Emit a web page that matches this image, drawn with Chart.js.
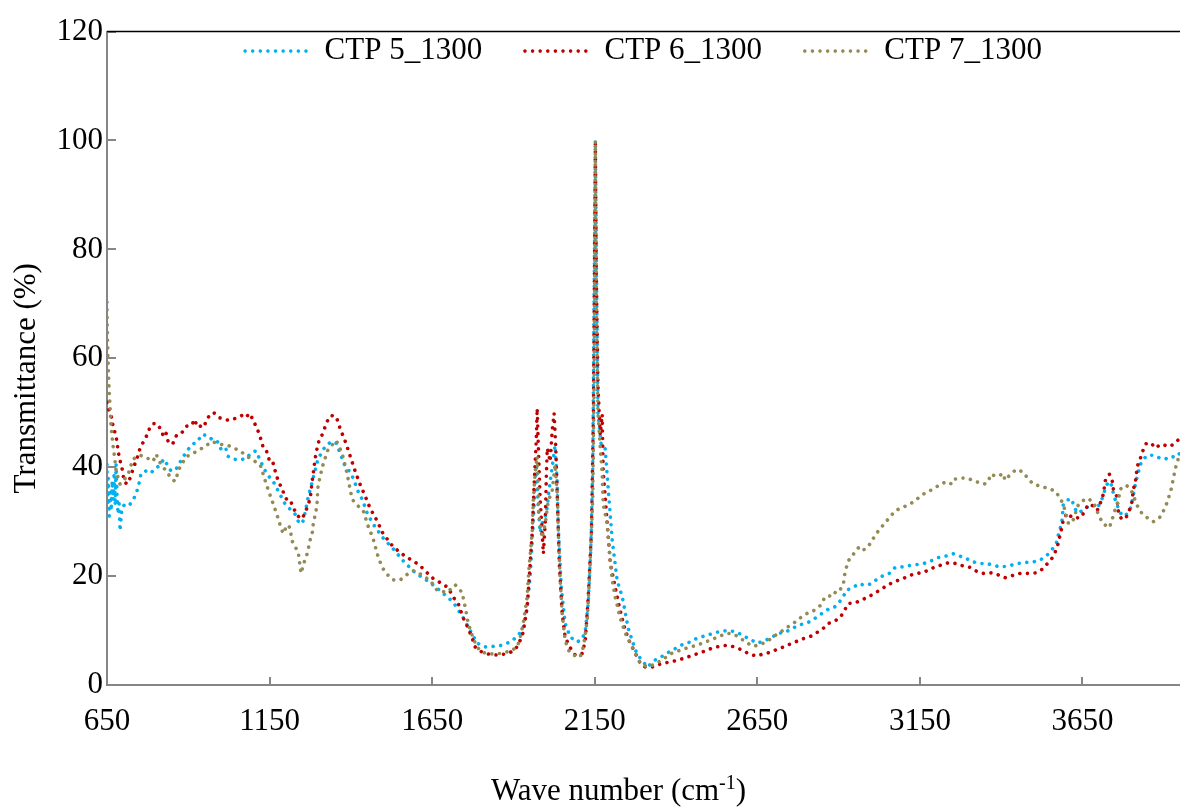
<!DOCTYPE html>
<html>
<head>
<meta charset="utf-8">
<script src="https://cdn.jsdelivr.net/npm/chart.js@4.4.0/dist/chart.umd.min.js"></script>
<style>
  html, body { margin: 0; padding: 0; background: #ffffff; }
  canvas { display: block; }
</style>
</head>
<body>
<canvas id="ftirChart" width="1180" height="807"></canvas>
<script>
const seriesNames = ["CTP 5_1300", "CTP 6_1300", "CTP 7_1300"];
const seriesColors = ["#00B0F0", "#C00000", "#948A54"];
const xTicks = [650, 1150, 1650, 2150, 2650, 3150, 3650];
const yTicks = [0, 20, 40, 60, 80, 100, 120];

// [wave number, transmittance %]
const ctp5 = [[650,40.5],[652,33],[654,38],[657,31],[660,36],[663,32],[666,37.5],[669,34],[672,39],[675,33],[678,40.5],[681,35],[684,31.4],[687,34],[690,28.3],[696,32.5],[708,33.4],[721,33.2],[733,34.3],[742,35.6],[748,36.9],[755,38.9],[770,39.3],[785,38.9],[798,39.8],[810,40.2],[825,41.5],[847,39.3],[862,39.6],[881,41.6],[896,43],[912,44.2],[927,44.6],[942,46],[958,45.8],[973,45.1],[988,44.9],[1004,42.9],[1016,43.3],[1022,42],[1038,41.5],[1056,41.3],[1078,41.6],[1093,42.6],[1108,43],[1127,40.5],[1142,38.7],[1161,37.4],[1182,35],[1198,33.2],[1213,32.3],[1228,31.4],[1238,30.1],[1250,29.6],[1256,30.7],[1268,34.3],[1284,38],[1299,41.5],[1321,43.8],[1339,44.7],[1355,44.4],[1367,42.6],[1382,40.2],[1395,39.3],[1407,38],[1422,35.6],[1435,34.1],[1450,31.6],[1468,29.6],[1499,27],[1530,25],[1561,22.8],[1598,20.6],[1644,18.8],[1681,17],[1715,15.2],[1745,12.4],[1767,10],[1788,7.7],[1813,7],[1838,7.1],[1865,7.3],[1890,7.9],[1915,9.1],[1930,10.6],[1942,14.2],[1952,20.4],[1961,30.1],[1967,37.4],[1971,40],[1976,33],[1982,28],[1990,30],[2001,31.4],[2010,36],[2019,40],[2028,44],[2034,38],[2038,29],[2047,18],[2059,11.3],[2075,8.8],[2096,7.9],[2112,8.5],[2121,10],[2130,15],[2138,25],[2144,40],[2148,70],[2152,100],[2156,72],[2160,50],[2170,44],[2182,43.5],[2192,35.6],[2204,26.5],[2219,19.2],[2235,16.1],[2253,10.4],[2275,6.4],[2290,4.9],[2312,3.3],[2336,4.6],[2358,5.3],[2382,6.2],[2407,7],[2422,7.5],[2444,7.9],[2465,8.6],[2493,9.1],[2515,9.5],[2539,9.9],[2564,10],[2588,9.7],[2607,9],[2628,8.4],[2650,7.7],[2668,8],[2690,8.6],[2715,9.5],[2736,9.7],[2758,10.4],[2779,11],[2795,11.3],[2816,11.7],[2835,12.6],[2853,13.3],[2868,13.9],[2890,14.4],[2902,15.2],[2915,16.3],[2924,17.4],[2945,17.9],[2961,18.6],[2982,18.3],[3001,18.6],[3019,19.5],[3037,20.1],[3056,20.5],[3074,21.6],[3096,21.7],[3114,21.9],[3139,22.1],[3161,22.3],[3185,22.8],[3207,23.4],[3232,23.7],[3253,24.1],[3272,23.7],[3293,23.2],[3315,22.6],[3336,22.3],[3358,22.3],[3379,21.9],[3401,21.7],[3425,21.9],[3450,22.3],[3475,22.5],[3499,22.6],[3521,23],[3542,23.9],[3558,25],[3570,26.1],[3576,27.6],[3582,28.9],[3588,30.5],[3591,33.2],[3604,34],[3619,34.1],[3622,32.9],[3635,31.6],[3653,32.1],[3675,33.2],[3696,32.5],[3711,34.3],[3721,36.2],[3730,37.4],[3742,36.5],[3745,35],[3755,33.4],[3761,32.3],[3773,31],[3788,31.4],[3798,32.5],[3804,34.1],[3813,36.9],[3819,38.4],[3828,40.5],[3838,41.5],[3850,42.2],[3868,42.2],[3890,41.6],[3905,41.5],[3921,42],[3936,41.8],[3950,42.6]];

const ctp6 = [[650,51.9],[656,50.4],[665,49],[668,47.8],[675,46.2],[681,44.7],[684,42.9],[693,40.5],[699,39.1],[702,37.4],[712,36.9],[721,38],[727,39.1],[733,40.2],[742,41.5],[748,42.9],[758,44.2],[770,45.5],[779,46.9],[792,48],[804,48],[816,46.9],[825,45.5],[832,46.2],[838,44.7],[847,44.9],[853,44.4],[865,46],[881,46.4],[893,47.5],[912,47.8],[918,48.8],[927,47.7],[933,47.3],[942,47.8],[948,47.5],[958,48.8],[967,49.7],[979,50],[995,49.1],[1010,48.8],[1025,48.6],[1047,49],[1065,49.5],[1078,49.1],[1087,49.9],[1099,48.8],[1108,47.5],[1118,46.2],[1130,43.7],[1139,43.3],[1152,40.7],[1161,40.7],[1170,38.7],[1179,37.1],[1188,36.2],[1195,34.9],[1207,33.6],[1216,33.6],[1225,32.3],[1238,31],[1250,30.5],[1259,31.6],[1268,33],[1275,34.3],[1281,37.4],[1290,41.5],[1299,44.4],[1312,46],[1327,48.4],[1339,49.5],[1355,49.3],[1367,47.1],[1385,44.4],[1398,42],[1413,39.3],[1428,36.9],[1444,34.7],[1459,32.5],[1481,30.1],[1499,27.8],[1527,25.6],[1552,24.3],[1573,23.4],[1592,22.8],[1613,21.9],[1628,21],[1650,19.7],[1675,18.8],[1699,17.9],[1715,16.1],[1730,15],[1745,12.4],[1761,10.4],[1773,8.6],[1782,7],[1804,6],[1822,5.7],[1850,5.5],[1875,5.7],[1899,6.2],[1915,7.3],[1930,9.7],[1942,14.2],[1948,19.2],[1958,28.3],[1964,37.4],[1970,44.7],[1973,50.8],[1976,45],[1982,34.3],[1988,28.3],[1992,24.1],[1998,30],[2001,38],[2004,43.5],[2013,41],[2019,46.6],[2025,49.9],[2030,44],[2035,34.3],[2041,22.3],[2050,13.1],[2059,8.8],[2075,6.8],[2090,5.5],[2112,5.8],[2121,8.2],[2130,16.1],[2140,28.3],[2146,50],[2149,75],[2152,100],[2155,75],[2160,55],[2167,46],[2173,49.7],[2176,39.3],[2188,30.1],[2198,22.3],[2213,17.9],[2228,13.7],[2244,10],[2259,7.7],[2275,5.8],[2290,4],[2305,3.3],[2330,3.3],[2358,4],[2382,4.2],[2413,4.7],[2444,5.3],[2468,5.8],[2487,6.2],[2512,6.8],[2533,7.1],[2558,7.3],[2579,7],[2604,6.4],[2622,5.8],[2647,5.3],[2668,5.7],[2690,6],[2712,6.6],[2736,7.1],[2758,7.7],[2779,8.2],[2795,8.6],[2816,9],[2835,9.7],[2853,10.4],[2868,11.3],[2887,11.7],[2905,12.4],[2918,13.7],[2930,15],[2948,15],[2967,15.5],[2988,16.1],[3010,16.8],[3028,17.5],[3050,18.3],[3071,19],[3093,19.4],[3111,19.9],[3136,20.5],[3158,20.6],[3179,21.2],[3198,21.7],[3219,22.1],[3241,22.5],[3262,22.3],[3281,21.9],[3305,21.6],[3327,20.8],[3345,20.5],[3367,20.6],[3382,20.5],[3395,20.1],[3413,19.7],[3435,20.1],[3459,20.5],[3484,20.5],[3508,20.6],[3530,21.4],[3545,22.5],[3561,23.6],[3570,25],[3576,26.1],[3582,27.8],[3588,29.2],[3591,30.5],[3604,31.6],[3619,30.7],[3631,30.7],[3644,30.7],[3656,31.8],[3668,33.2],[3684,32.9],[3696,32.1],[3705,33.4],[3714,35],[3721,37.8],[3733,38.7],[3742,37.4],[3745,36],[3755,34.7],[3758,33.2],[3761,31.6],[3770,30.5],[3782,30.5],[3791,31.6],[3801,33.2],[3807,36],[3813,37.4],[3819,40.2],[3828,41.6],[3835,42.9],[3845,44.3],[3860,44.5],[3875,43.5],[3890,44.2],[3905,44],[3920,43.8],[3935,44.5],[3950,45.3]];

const ctp7 = [[650,70.3],[651,65],[653,60],[656,55],[659,51.5],[662,48],[665,46],[668,44.2],[674,41.6],[678,39.3],[690,36.9],[699,37.4],[715,38.7],[730,41.5],[752,42.2],[770,41.8],[792,41.1],[801,42.4],[816,40.5],[832,39.3],[847,38],[859,37.4],[875,40.2],[896,42],[930,43],[973,44.7],[998,44.2],[1022,44],[1059,43],[1090,41.6],[1121,40.5],[1142,36.5],[1158,33.8],[1173,31.2],[1185,28.9],[1192,27.8],[1204,29.4],[1213,28.9],[1219,26.5],[1228,25.4],[1238,24.5],[1241,23.2],[1244,21.7],[1247,20.5],[1253,21.9],[1259,23],[1268,24.5],[1272,26.1],[1281,27.8],[1284,29.4],[1293,32.1],[1296,33.4],[1299,36.5],[1312,40],[1330,43.3],[1355,44.9],[1373,42.6],[1388,38.9],[1404,34.1],[1422,32.9],[1438,32],[1453,29.2],[1468,27],[1481,24.1],[1496,21.6],[1512,20.3],[1530,19.3],[1552,19.3],[1573,20.3],[1592,21],[1613,20.4],[1644,19.2],[1665,17.4],[1696,17],[1721,18.4],[1742,17],[1752,14.2],[1761,11.3],[1776,8.6],[1788,7],[1804,6],[1828,5.7],[1859,5.8],[1890,6.2],[1912,7],[1921,8.8],[1930,11.3],[1942,16.1],[1948,21.6],[1958,28.3],[1961,33.8],[1967,39.3],[1973,42],[1979,31],[1988,27],[1998,29.6],[2007,33.8],[2019,35.6],[2028,40.5],[2035,35],[2038,28.3],[2044,19.2],[2050,13.1],[2059,8.2],[2069,6.4],[2084,5.5],[2105,5.1],[2115,7],[2127,11.9],[2136,22.3],[2144,34.3],[2148,55],[2152,100],[2155,70],[2160,50],[2167,43.5],[2173,38.7],[2176,33.2],[2188,29.6],[2198,22.8],[2204,19.2],[2213,16.1],[2228,12.4],[2244,9.5],[2259,7.7],[2275,5.8],[2290,4],[2312,3.3],[2330,3.7],[2358,4.6],[2382,5.7],[2413,6.4],[2444,7],[2465,7.3],[2490,7.9],[2512,8.4],[2536,9],[2558,9.5],[2579,9.3],[2598,8.6],[2619,7.7],[2638,7.1],[2662,7.5],[2681,8],[2702,9],[2721,9.7],[2742,10.6],[2761,11.3],[2779,12.2],[2807,13.3],[2825,13.7],[2844,14.6],[2856,15.9],[2865,16.4],[2884,16.3],[2893,17.4],[2905,17.5],[2915,18.6],[2918,20.1],[2924,21.6],[2930,22.8],[2942,23.7],[2951,24.5],[2964,25.4],[2976,24.8],[2988,25.2],[3001,26.3],[3013,27.6],[3028,28.7],[3043,29.8],[3059,30.9],[3074,32],[3093,32.5],[3111,33],[3130,33.6],[3148,34.5],[3167,35.3],[3185,35.8],[3204,36.5],[3222,37.1],[3238,37.3],[3247,36.9],[3256,37.8],[3275,38],[3296,38],[3318,37.4],[3339,37.1],[3348,36.9],[3361,37.4],[3367,38.7],[3382,38.4],[3395,38.4],[3404,38.9],[3413,37.6],[3428,38.7],[3447,39.6],[3468,39.1],[3481,38],[3499,36.9],[3521,36.5],[3545,36.1],[3567,35.6],[3579,34.5],[3591,33.2],[3598,31.6],[3604,30.3],[3607,29.6],[3619,30],[3628,31.2],[3631,32.5],[3644,33.6],[3665,34.3],[3684,33.6],[3702,30.9],[3714,29.6],[3733,28.9],[3742,30.5],[3748,31.8],[3758,33.2],[3767,36],[3785,36.7],[3801,35.6],[3819,32.9],[3832,31.6],[3850,30.7],[3868,30],[3890,30.9],[3902,32.3],[3912,33.8],[3924,36.2],[3931,38.4],[3939,40.5],[3950,42.5]];

const seriesData = [ctp5, ctp6, ctp7];
const xTitle = ["Wave number (cm", "-1", ")"];
const yTitle = "Transmittance (%)";

const fontFamily = "'Liberation Serif', 'Times New Roman', serif";
const axisGray = "#868686";
const dotDash = [0.01, 7.6];
const dotWidth = 3.6;

// the legend sits inside the plot: zero height for the layout,
// then give its box room again so its clip does not hide it
const overlayLegend = {
  id: "overlayLegend",
  beforeLayout(chart) {
    const legend = chart.legend;
    if (legend && !legend._overlay) {
      const fit = legend.fit.bind(legend);
      legend.fit = function () { fit(); this.height = 0; };
      legend._overlay = true;
    }
  },
  afterLayout(chart) {
    if (chart.legend) chart.legend.bottom = chart.legend.top + 45;
  }
};

// top frame line + axis titles (x title needs a real superscript)
const frameAndTitles = {
  id: "frameAndTitles",
  afterDraw(chart) {
    const { ctx, chartArea } = chart;
    ctx.save();
    ctx.strokeStyle = "#000000";
    ctx.lineWidth = 1.5;
    ctx.beginPath();
    ctx.moveTo(chartArea.left, chartArea.top);
    ctx.lineTo(chartArea.right, chartArea.top);
    ctx.stroke();

    const [main, sup, tail] = xTitle;
    ctx.fillStyle = "#000000";
    ctx.textBaseline = "alphabetic";
    ctx.textAlign = "left";
    ctx.font = "31px " + fontFamily;
    const wMain = ctx.measureText(main).width;
    const wTail = ctx.measureText(tail).width;
    ctx.font = "20px " + fontFamily;
    const wSup = ctx.measureText(sup).width;
    const total = wMain + wSup + wTail;
    const cx = (chartArea.left + chartArea.right) / 2 - 25;
    const base = chart.height - 7;
    let x = cx - total / 2;
    ctx.font = "31px " + fontFamily;
    ctx.fillText(main, x, base);
    x += wMain;
    ctx.font = "20px " + fontFamily;
    ctx.fillText(sup, x, base - 11);
    x += wSup;
    ctx.font = "31px " + fontFamily;
    ctx.fillText(tail, x, base);

    ctx.translate(27, (chartArea.top + chartArea.bottom) / 2 + 20);
    ctx.rotate(-Math.PI / 2);
    ctx.textAlign = "center";
    ctx.textBaseline = "middle";
    ctx.fillText(yTitle, 0, 0);
    ctx.restore();
  }
};

const legendSpacer = "     ";

new Chart(document.getElementById("ftirChart"), {
  type: "line",
  data: {
    datasets: seriesNames.map((name, i) => ({
      label: name,
      data: seriesData[i].map(p => ({ x: p[0], y: p[1] })),
      borderColor: seriesColors[i],
      backgroundColor: seriesColors[i],
      borderWidth: dotWidth,
      borderDash: dotDash,
      borderCapStyle: "round",
      pointRadius: 0,
      tension: 0,
      fill: false,
      order: seriesNames.length - i
    }))
  },
  options: {
    responsive: false,
    animation: false,
    devicePixelRatio: 1,
    layout: { padding: { top: 28, right: 0, left: 0, bottom: 0 } },
    plugins: {
      tooltip: { enabled: false },
      legend: {
        position: "top",
        align: "center",
        fullSize: false,
        labels: {
          usePointStyle: true,
          pointStyle: "line",
          pointStyleWidth: 64,
          padding: 4,
          color: "#000000",
          font: { family: fontFamily, size: 31 },
          sort: (a, b) => a.datasetIndex - b.datasetIndex,
          generateLabels(chart) {
            const items = Chart.defaults.plugins.legend.labels.generateLabels(chart);
            items.forEach(item => {
              item.lineDash = dotDash;
              item.lineCap = "round";
              item.lineWidth = dotWidth;
              item.strokeStyle = seriesColors[item.datasetIndex];
              if (item.datasetIndex < seriesNames.length - 1) item.text += legendSpacer;
            });
            return items;
          }
        }
      }
    },
    scales: {
      x: {
        type: "linear",
        min: 650,
        max: 3950,
        afterBuildTicks: scale => { scale.ticks = xTicks.map(v => ({ value: v })); },
        afterFit: scale => { scale.height = 122; },
        border: { color: axisGray, width: 2 },
        grid: { drawOnChartArea: false, drawTicks: true, tickLength: -8, color: axisGray, lineWidth: 2 },
        ticks: {
          padding: 26,
          maxRotation: 0,
          color: "#000000",
          font: { family: fontFamily, size: 31 },
          callback: v => String(v)
        }
      },
      y: {
        min: 0,
        max: 120,
        afterBuildTicks: scale => { scale.ticks = yTicks.map(v => ({ value: v })); },
        afterFit: scale => { scale.width = 107; },
        border: { color: axisGray, width: 2 },
        grid: { drawOnChartArea: false, drawTicks: true, tickLength: -9, color: axisGray, lineWidth: 2 },
        ticks: {
          padding: 13,
          color: "#000000",
          font: { family: fontFamily, size: 31 },
          callback: v => String(v)
        }
      }
    }
  },
  plugins: [overlayLegend, frameAndTitles]
});
</script>
</body>
</html>
